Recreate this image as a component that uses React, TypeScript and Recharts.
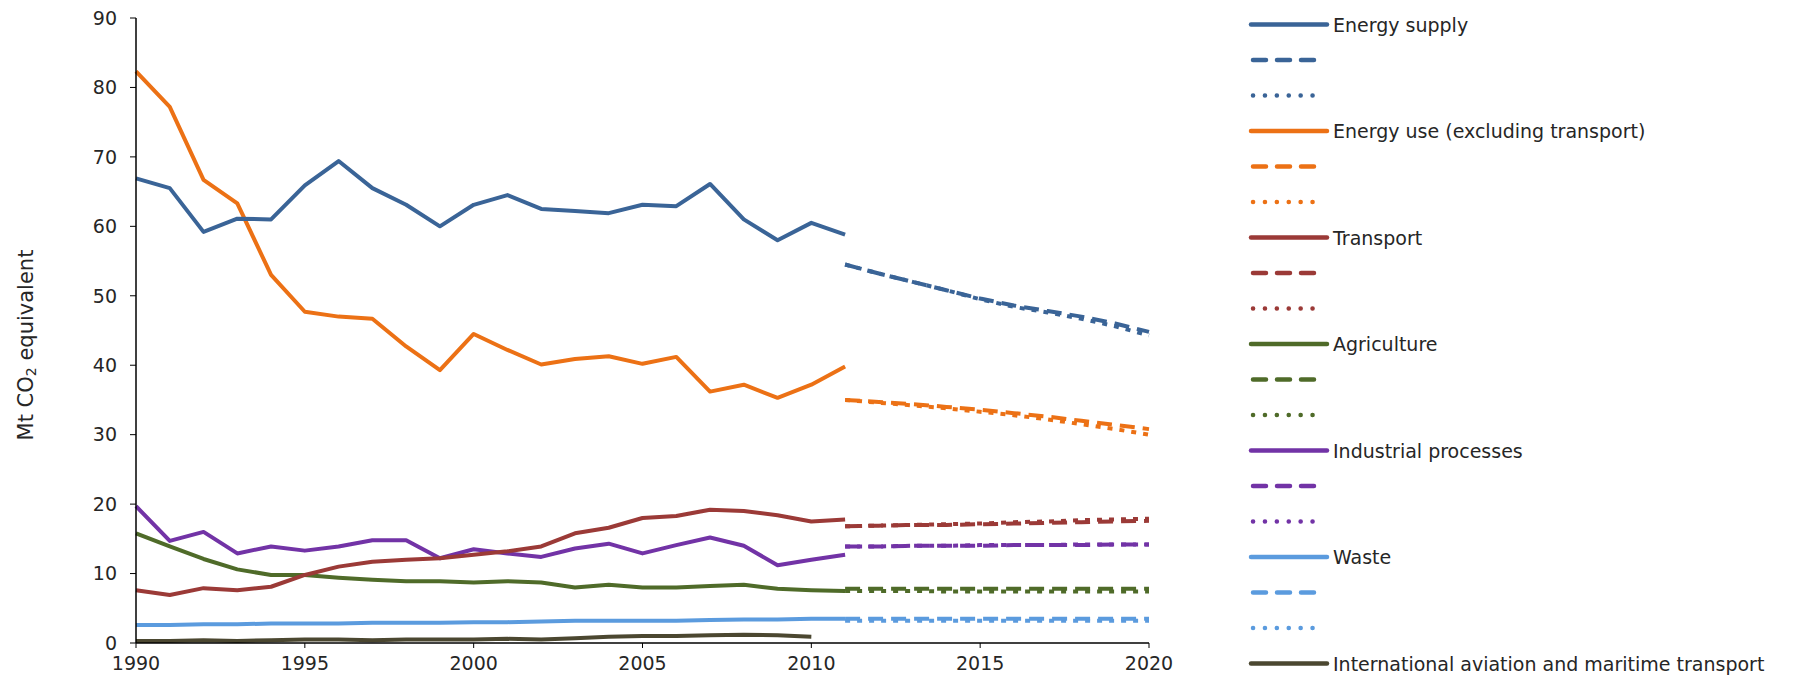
import React from 'react';
import { LineChart, Line, XAxis, YAxis, Legend } from 'recharts';

const histYears = [1990, 1991, 1992, 1993, 1994, 1995, 1996, 1997, 1998, 1999, 2000, 2001, 2002, 2003, 2004, 2005, 2006, 2007, 2008, 2009, 2010, 2011];
const projYears = [2011, 2012, 2013, 2014, 2015, 2016, 2017, 2018, 2019, 2020];
const xTicks = [1990, 1995, 2000, 2005, 2010, 2015, 2020];
const yTicks = [0, 10, 20, 30, 40, 50, 60, 70, 80, 90];

const energySupply = [66.9, 65.5, 59.2, 61.1, 61.0, 65.9, 69.4, 65.5, 63.1, 60.0, 63.1, 64.5, 62.5, 62.2, 61.9, 63.1, 62.9, 66.1, 61.0, 58.0, 60.5, 58.8];
const energyUse = [82.3, 77.2, 66.7, 63.3, 53.0, 47.7, 47.0, 46.7, 42.7, 39.3, 44.5, 42.2, 40.1, 40.9, 41.3, 40.2, 41.2, 36.2, 37.2, 35.3, 37.2, 39.8];
const transport = [7.6, 6.9, 7.9, 7.6, 8.1, 9.8, 11.0, 11.7, 12.0, 12.2, 12.7, 13.2, 13.9, 15.8, 16.6, 18.0, 18.3, 19.2, 19.0, 18.4, 17.5, 17.8];
const agriculture = [15.8, 13.9, 12.1, 10.6, 9.8, 9.8, 9.4, 9.1, 8.9, 8.9, 8.7, 8.9, 8.7, 8.0, 8.4, 8.0, 8.0, 8.2, 8.4, 7.8, 7.6, 7.5];
const industrial = [19.7, 14.7, 16.0, 12.9, 13.9, 13.3, 13.9, 14.8, 14.8, 12.2, 13.5, 12.9, 12.4, 13.6, 14.3, 12.9, 14.1, 15.2, 14.0, 11.2, 12.0, 12.7];
const waste = [2.6, 2.6, 2.7, 2.7, 2.8, 2.8, 2.8, 2.9, 2.9, 2.9, 3.0, 3.0, 3.1, 3.2, 3.2, 3.2, 3.2, 3.3, 3.4, 3.4, 3.5, 3.5];
const intlTransport = [0.3, 0.3, 0.4, 0.3, 0.4, 0.5, 0.5, 0.4, 0.5, 0.5, 0.5, 0.6, 0.5, 0.7, 0.9, 1.0, 1.0, 1.1, 1.2, 1.1, 0.9, null];

const energySupplyWem = [54.5, 53.2, 52.0, 50.8, 49.6, 48.6, 47.8, 47.0, 46.0, 44.8];
const energySupplyWam = [54.5, 53.2, 52.0, 50.8, 49.5, 48.4, 47.6, 46.7, 45.6, 44.3];
const energyUseWem = [35.0, 34.7, 34.4, 34.0, 33.6, 33.1, 32.6, 32.0, 31.4, 30.8];
const energyUseWam = [35.0, 34.6, 34.2, 33.8, 33.3, 32.8, 32.2, 31.5, 30.8, 30.0];
const transportWem = [16.8, 16.9, 17.0, 17.0, 17.1, 17.2, 17.3, 17.4, 17.5, 17.6];
const transportWam = [16.8, 16.9, 17.0, 17.1, 17.2, 17.4, 17.5, 17.7, 17.8, 17.9];
const agricultureWem = [7.8, 7.8, 7.8, 7.8, 7.8, 7.8, 7.8, 7.8, 7.8, 7.8];
const agricultureWam = [7.5, 7.5, 7.5, 7.4, 7.4, 7.4, 7.4, 7.4, 7.4, 7.4];
const industrialWem = [13.9, 13.9, 14.0, 14.0, 14.0, 14.1, 14.1, 14.1, 14.2, 14.2];
const industrialWam = [13.9, 13.9, 14.0, 14.0, 14.1, 14.1, 14.1, 14.2, 14.2, 14.2];
const wasteWem = [3.5, 3.5, 3.5, 3.5, 3.5, 3.5, 3.5, 3.5, 3.5, 3.5];
const wasteWam = [3.2, 3.2, 3.2, 3.2, 3.2, 3.2, 3.2, 3.2, 3.2, 3.2];

const sectors = [
  { key: 'es', name: 'Energy supply', color: '#3A6497', hist: energySupply, wem: energySupplyWem, wam: energySupplyWam },
  { key: 'eu', name: 'Energy use (excluding transport)', color: '#EC7115', hist: energyUse, wem: energyUseWem, wam: energyUseWam },
  { key: 'tr', name: 'Transport', color: '#9B3A37', hist: transport, wem: transportWem, wam: transportWam },
  { key: 'ag', name: 'Agriculture', color: '#4F6B29', hist: agriculture, wem: agricultureWem, wam: agricultureWam },
  { key: 'ip', name: 'Industrial processes', color: '#7233A6', hist: industrial, wem: industrialWem, wam: industrialWam },
  { key: 'wa', name: 'Waste', color: '#5B9BDE', hist: waste, wem: wasteWem, wam: wasteWam },
];
const intl = { key: 'it', name: 'International aviation and maritime transport', color: '#4B4730', hist: intlTransport };

const allYears = Array.from(new Set([...histYears, ...projYears]));
const data = allYears.map((year) => {
  const row: Record<string, number | null> = { year };
  const hi = histYears.indexOf(year);
  const pi = projYears.indexOf(year);
  sectors.forEach((s) => {
    row[s.key] = hi >= 0 ? s.hist[hi] : null;
    row[s.key + 'Wem'] = pi >= 0 ? s.wem[pi] : null;
    row[s.key + 'Wam'] = pi >= 0 ? s.wam[pi] : null;
  });
  row[intl.key] = hi >= 0 ? intl.hist[hi] : null;
  return row;
});

const FONT = 'Verdana, "DejaVu Sans", sans-serif';
const TEXT = '#262626';

const legendRows: { color: string; style: 'solid' | 'dashed' | 'dotted'; label?: string }[] = [];
sectors.forEach((s) => {
  legendRows.push({ color: s.color, style: 'solid', label: s.name });
  legendRows.push({ color: s.color, style: 'dashed' });
  legendRows.push({ color: s.color, style: 'dotted' });
});
legendRows.push({ color: intl.color, style: 'solid', label: intl.name });

const LegendContent = () => (
  <svg width={560} height={680} style={{ display: 'block' }}>
    {legendRows.map((r, i) => {
      const y = 16.5 + i * 35.5;
      if (r.style === 'solid') {
        return (
          <g key={i}>
            <line x1={5} x2={81} y1={y} y2={y} stroke={r.color} strokeWidth={4.5} strokeLinecap="round" />
            <text x={87} y={y} dominantBaseline="central" fontSize={19} fontFamily={FONT} fill={TEXT}>{r.label}</text>
          </g>
        );
      }
      if (r.style === 'dashed') {
        return <line key={i} x1={7} x2={70} y1={y} y2={y} stroke={r.color} strokeWidth={4.5} strokeLinecap="round" strokeDasharray="13 11" />;
      }
      return <line key={i} x1={7} x2={72} y1={y} y2={y} stroke={r.color} strokeWidth={4.5} strokeLinecap="round" strokeDasharray="0.1 11.8" />;
    })}
  </svg>
);

const YLabel = () => (
  <text x={18} y={337} transform="rotate(-90 18 337)" textAnchor="middle" dominantBaseline="central" fontSize={21} fontFamily={FONT} fill={TEXT}>
    Mt CO<tspan fontSize={14} dy={5}>2</tspan><tspan dy={-5}> equivalent</tspan>
  </text>
);

export default function App() {
  return (
    <div style={{ width: 1780, height: 675, position: 'relative' }}>
      <LineChart width={1780} height={675} data={data} margin={{ top: 10, right: 639, bottom: 10, left: 68 }}>
        <XAxis
          dataKey="year"
          type="number"
          domain={[1990, 2020]}
          ticks={xTicks}
          height={30}
          tickSize={5}
          tickMargin={9}
          stroke="#000"
          tick={{ fontSize: 19, fontFamily: FONT, fill: TEXT }}
          tickLine={{ stroke: '#000' }}
          axisLine={{ stroke: '#000', strokeWidth: 1.5 }}
        />
        <YAxis
          domain={[0, 90]}
          ticks={yTicks}
          width={60}
          tickSize={6}
          tickMargin={13}
          interval={0}
          tick={{ fontSize: 19, fontFamily: FONT, fill: TEXT }}
          tickLine={{ stroke: '#000' }}
          axisLine={{ stroke: '#000', strokeWidth: 1.5 }}
          label={{ content: YLabel }}
        />
        {sectors.map((s) => (
          <Line key={s.key + 'Wam'} dataKey={s.key + 'Wam'} stroke={s.color} strokeWidth={4} strokeDasharray="5 7" dot={false} activeDot={false} connectNulls={false} isAnimationActive={false} legendType="none" />
        ))}
        {sectors.map((s) => (
          <Line key={s.key + 'Wem'} dataKey={s.key + 'Wem'} stroke={s.color} strokeWidth={4} strokeDasharray="15 8" dot={false} activeDot={false} connectNulls={false} isAnimationActive={false} legendType="none" />
        ))}
        <Line dataKey={intl.key} stroke={intl.color} strokeWidth={4} strokeLinejoin="round" dot={false} activeDot={false} isAnimationActive={false} />
        {sectors.slice().reverse().map((s) => (
          <Line key={s.key} dataKey={s.key} stroke={s.color} strokeWidth={4} strokeLinejoin="round" dot={false} activeDot={false} isAnimationActive={false} />
        ))}
        <Legend
          layout="vertical"
          align="center"
          verticalAlign="middle"
          content={LegendContent}
          wrapperStyle={{ left: 1238, top: 0, width: 560, height: 680 }}
        />
      </LineChart>
    </div>
  );
}
